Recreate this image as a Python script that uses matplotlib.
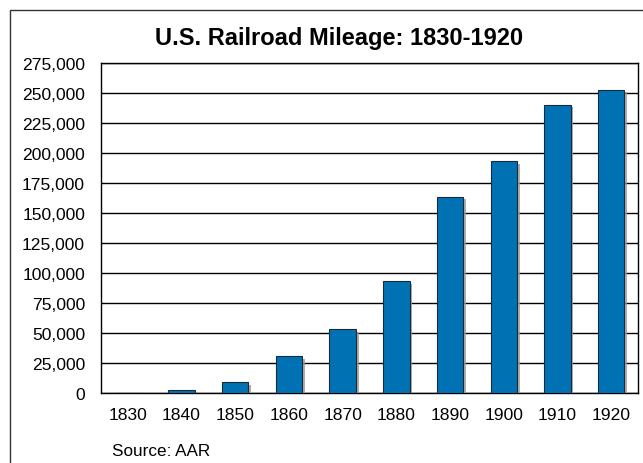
import matplotlib
matplotlib.use("Agg")
import matplotlib.pyplot as plt
import matplotlib.patheffects as pe
from matplotlib.patches import Rectangle
from matplotlib.ticker import FuncFormatter, MultipleLocator

years = ["1830", "1840", "1850", "1860", "1870", "1880", "1890", "1900", "1910", "1920"]
miles = [23, 2818, 9021, 30626, 52922, 93262, 163597, 193346, 240293, 252845]
title = "U.S. Railroad Mileage: 1830-1920"
source = "Source: AAR"

plt.rcParams['font.family'] = ['Liberation Sans', 'DejaVu Sans']

W, H = 643, 464
fig = plt.figure(figsize=(W / 100, H / 100), dpi=100)
fig.patch.set_facecolor("white")

ax = fig.add_axes([101 / W, 1 - 394 / H, (638 - 101) / W, (394 - 64) / H])
x = list(range(len(years)))
bars = ax.bar(x, miles, width=0.49, color="#0072B4", edgecolor="#1a2a3a", linewidth=0.8, zorder=3)
for b in bars:
    b.set_path_effects([pe.SimplePatchShadow(offset=(2, -2), shadow_rgbFace="#9a9a9a", alpha=0.8), pe.Normal()])

ax.set_xlim(-0.5, len(years) - 0.5)
ax.set_ylim(0, 275000)
ax.yaxis.set_major_locator(MultipleLocator(25000))
ax.yaxis.set_major_formatter(FuncFormatter(lambda v, p: f"{int(v):,}"))
ax.set_xticks(x)
ax.set_xticklabels(years)
ax.grid(axis="y", color="black", linewidth=1, zorder=0)
ax.set_axisbelow(True)
ax.tick_params(axis="both", length=0, labelsize=12.6, colors="black")
ax.tick_params(axis="y", pad=11.5)
ax.tick_params(axis="x", pad=10)
for s in ax.spines.values():
    s.set_color("black")
    s.set_linewidth(1)

fig.text(339 / W, 1 - 38.5 / H, title, ha="center", va="center", fontsize=17, fontweight="bold")
fig.text(112 / W, 1 - 451.5 / H, source, ha="left", va="center", fontsize=12.3)

fig.patches.append(Rectangle((9.5 / W, -0.1), 1.2, (H - 10.5) / H + 0.1, transform=fig.transFigure,
                             fill=False, edgecolor="#333333", linewidth=1))

fig.savefig("out.png", dpi=100)
